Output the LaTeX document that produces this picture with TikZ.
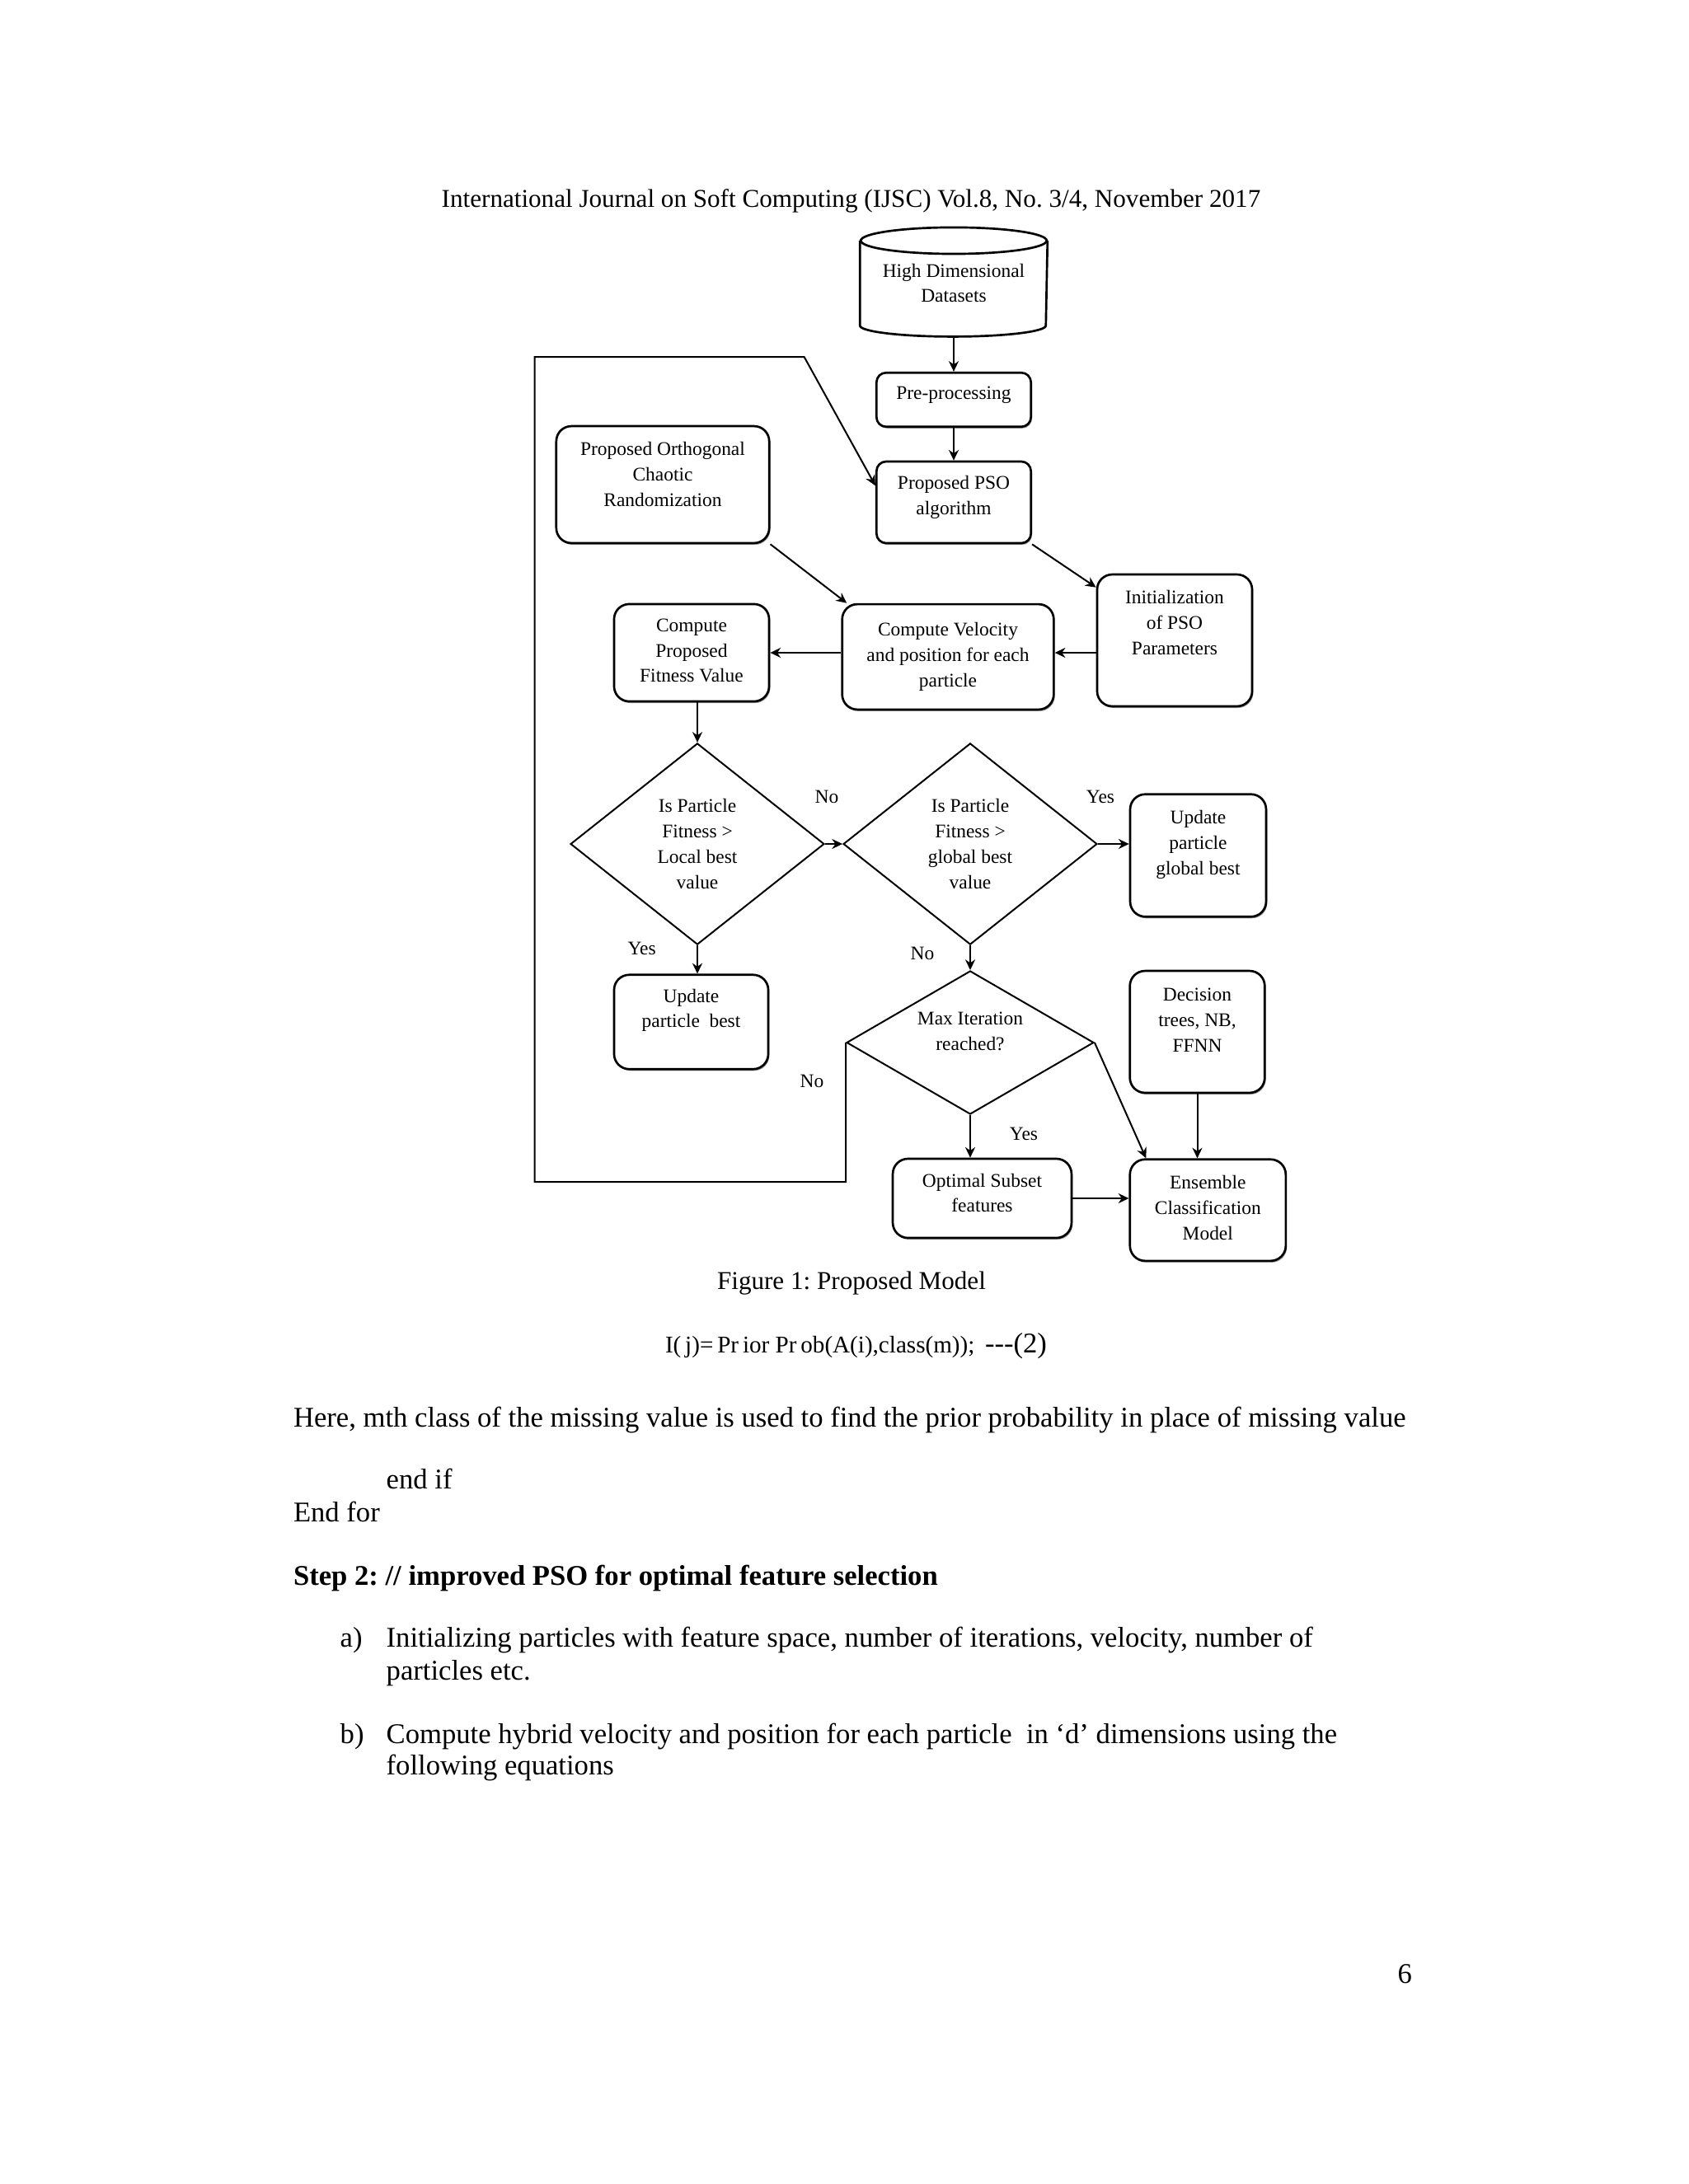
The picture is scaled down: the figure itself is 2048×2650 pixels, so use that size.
\documentclass[tikz,border=0pt]{standalone}
\usepackage{fontspec}
\setmainfont{Liberation Serif}
\usetikzlibrary{shapes.geometric,arrows.meta,shadows}
\newcommand{\diagfont}{\fontsize{7bp}{9.2bp}\selectfont}
\newcommand{\bodyfont}{\fontsize{10.35bp}{12bp}\selectfont}
\newcommand{\headfont}{\fontsize{9.3bp}{11bp}\selectfont}
\newcommand{\eqfont}{\fontsize{8.7bp}{10bp}\selectfont}
\frenchspacing
\begin{document}
\begin{tikzpicture}[x=0.29883bp,y=-0.29883bp,line width=0.6bp,>={Stealth[length=3.8bp,width=3.6bp]},
	box/.style={draw,fill=white,line width=0.8bp,rounded corners=5.5bp,align=center,font=\diagfont,inner sep=0pt,text depth=1.6bp,
		drop shadow={shadow xshift=0.4bp,shadow yshift=-0.6bp,fill=black!55,opacity=0.7}},
	decide/.style={draw,diamond,aspect=1.26,align=center,font=\diagfont,inner sep=0pt},
	tag/.style={font=\diagfont},
	txt/.style={font=\bodyfont,inner sep=0pt,anchor=base west}]
		\useasboundingbox (0,0) rectangle (2048,2650);
		\node[txt,font=\headfont,anchor=base] (head) at (1032.5,251.7) {International Journal on Soft Computing (IJSC) Vol.8, No. 3/4, November 2017};
		\node[align=center,font=\diagfont,inner sep=0pt,minimum width=67.4bp,minimum height=30.2bp] (data) at (1157,343.5) {High Dimensional\\Datasets};
		\draw[line width=0.8bp] (data.north west) -- (data.south west) arc[start angle=180,end angle=360,x radius=33.7bp,y radius=4bp] -- (data.north east);
		\draw[line width=0.8bp] (data.north) ellipse[x radius=33.7bp,y radius=4.8bp];
		\node[box,rounded corners=3.5bp,minimum width=56bp,minimum height=19.6bp,text depth=5.2bp] (pre) at (1157,485) {Pre-processing};
		\node[box,rounded corners=3.5bp,minimum width=56bp,minimum height=29.6bp,text depth=5.4bp] (pso) at (1157,609.5) {Proposed PSO\\algorithm};
		\node[box,minimum width=77.2bp,minimum height=42.4bp,text depth=7.6bp] (orth) at (804,588) {Proposed Orthogonal\\Chaotic\\Randomization};
		\node[box,minimum width=56.2bp,minimum height=47.8bp,text depth=13bp] (init) at (1425,777) {Initialization\\of PSO\\Parameters};
		\node[box,minimum width=76.7bp,minimum height=38.2bp] (vel) at (1150,797) {Compute Velocity\\and position for each\\particle};
		\node[box,minimum width=56.2bp,minimum height=35.3bp] (fit) at (839,792) {Compute\\Proposed\\Fitness Value};
		\node[decide,minimum width=92bp,minimum height=73bp] (d1) at (846,1024) {Is Particle\\Fitness >\\Local best\\value};
		\node[decide,minimum width=92bp,minimum height=73bp] (d2) at (1177,1024) {Is Particle\\Fitness >\\global best\\value};
		\node[box,minimum width=49.3bp,minimum height=44.4bp,text depth=9.4bp] (glob) at (1453.5,1038) {Update\\particle\\global best};
		\node[box,minimum width=55.9bp,minimum height=34.2bp,text depth=10bp] (upd) at (838.5,1240) {Update\\particle~ best};
		\node[decide,aspect=1.72,minimum width=89.6bp,minimum height=52bp,text depth=8.2bp] (d3) at (1177,1265) {Max Iteration\\reached?};
		\node[box,minimum width=48.9bp,minimum height=44.2bp,text depth=8.4bp] (dec) at (1452.5,1252) {Decision\\trees, NB,\\FFNN};
		\node[box,minimum width=64.8bp,minimum height=28.7bp,text depth=4bp] (opt) at (1191.5,1454) {Optimal Subset\\features};
		\node[box,minimum width=56.5bp,minimum height=36.8bp] (ens) at (1465.3,1468.3) {Ensemble\\Classification\\Model};
		\node[tag] (noA) at (1003,967) {No};
		\node[tag] (yesA) at (1335,967) {Yes};
		\node[tag] (yesB) at (778.7,1151) {Yes};
		\node[tag] (noB) at (1119,1157) {No};
		\node[tag] (noC) at (985,1312) {No};
		\node[tag] (yesC) at (1242,1376) {Yes};
		\coordinate (loopB) at (648.5,1434);
		\coordinate (loopD) at (975.6,433);
		\draw[->] ([yshift=-4bp]data.south) -- (pre.north);
		\draw[->] (pre.south) -- (pso.north);
		\draw[->] (pso.south east) -- (init.146);
		\draw[->] (orth.south east) -- (vel.152);
		\draw[->] (init.west |- fit.east) -- (vel.east |- fit.east);
		\draw[->] (vel.west |- fit.east) -- (fit.east);
		\draw[->] (fit.south -| d1.north) -- (d1.north);
		\draw[->] (d1.east) -- (d2.west);
		\draw[->] (d2.east) -- (d2.east -| glob.west);
		\draw[->] (d1.south) -- (d1.south |- upd.north);
		\draw[->] (d2.south) -- (d3.north);
		\draw[->] (d3.south) -- (d3.south |- opt.north);
		\draw[->] (opt.east) -- (opt.east -| ens.west);
		\draw[->] (dec.south) -- (dec.south |- ens.north);
		\draw[->] (d3.east) -- (ens.140);
		\draw[->] (d3.west) |- (loopB) |- (loopD) -- (pso.168);
		\node[txt,font=\headfont,anchor=base] (cap) at (1033,1564) {Figure 1: Proposed Model};
		\node[txt,font=\eqfont] (eq) at (806,1641.7) {I(\,j)=\,Pr\,ior Pr\,ob(A(i),class(m));};
		\node[txt] (eqno) at (1194,1641.7) {{-}{-}{-}(2)};
		\node[txt] (here) at (355,1731.7) {Here, mth class of the missing value is used to find the prior probability in place of missing value};
		\node[txt] (endif) at (467.7,1806.7) {end if};
		\node[txt] (endfor) at (355,1846.7) {End for};
		\node[txt,font=\bodyfont\bfseries] (step) at (355,1923.3) {Step 2: // improved PSO for optimal feature selection};
		\node[txt] (itemA) at (411.7,1998.3) {a)};
		\node[txt] (lineA1) at (467.7,1998.3) {Initializing particles with feature space, number of iterations, velocity, number of};
		\node[txt] (lineA2) at (467.7,2038.3) {particles etc.};
		\node[txt] (itemB) at (411.7,2115) {b)};
		\node[txt] (lineB1) at (467.7,2115) {Compute hybrid velocity and position for each particle~ in ‘d’ dimensions using the};
		\node[txt] (lineB2) at (467.7,2153.3) {following equations};
		\node[txt,anchor=base east] (page) at (1714,2406.7) {6};
\end{tikzpicture}
\end{document}
